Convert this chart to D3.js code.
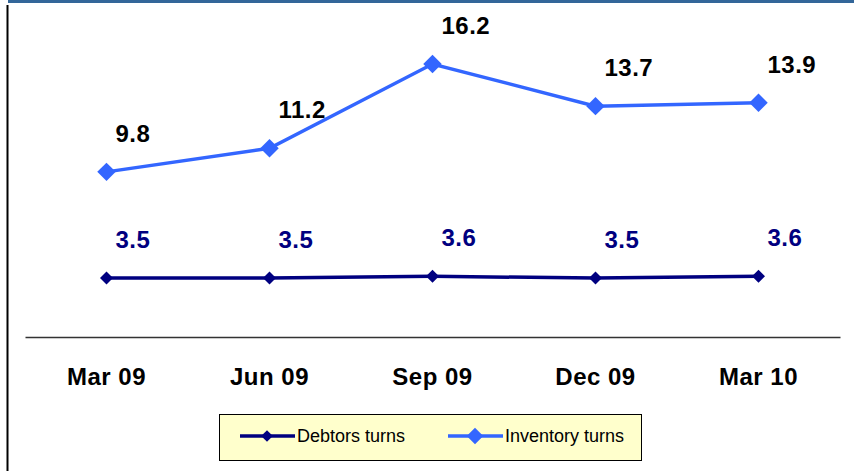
<!DOCTYPE html>
<html>
<head>
<meta charset="utf-8">
<script src="https://cdnjs.cloudflare.com/ajax/libs/d3/7.8.5/d3.min.js"></script>
<style>
  body { margin: 0; background: #fff; }
  svg { display: block; font-family: "Liberation Sans", Arial, sans-serif; }
</style>
</head>
<body>
<svg id="chart" width="854" height="471"></svg>
<script>
// quarters on the x axis
var quarters = ["Mar 09", "Jun 09", "Sep 09", "Dec 09", "Mar 10"];
var debtorsTurns = [3.5, 3.5, 3.6, 3.5, 3.6];
var inventoryTurns = [9.8, 11.2, 16.2, 13.7, 13.9];
var seriesNames = ["Debtors turns", "Inventory turns"];
var seriesColors = ["#000080", "#3366ff"];

var svg = d3.select("#chart");

// frame bits: blue bar on top, black rule on the left
svg.append("rect").attr("x", 8).attr("y", 0).attr("width", 846).attr("height", 3).attr("fill", "#336699");
svg.append("line").attr("x1", 7.5).attr("x2", 7.5).attr("y1", 5).attr("y2", 471)
   .attr("stroke", "#000").attr("stroke-width", 2);

var x = d3.scaleBand().domain(quarters).range([25, 840]);
var y = d3.scaleLinear().domain([0, 20]).range([337, 0]);

// category axis, ticks hidden
var xAxis = svg.append("g")
  .attr("transform", "translate(0,337)")
  .call(d3.axisBottom(x).tickSize(0).tickPadding(31));
xAxis.select(".domain").attr("stroke", "#333").attr("stroke-width", 1.5);
xAxis.selectAll("text")
  .attr("fill", "#000")
  .style("font-size", "24px")
  .style("font-weight", "bold")
  .style("letter-spacing", "0.5px");

var series = [debtorsTurns, inventoryTurns];
var labelColors = ["#000080", "#000"];
var markerArea = [85, 170];

var cx = function (i) { return x(quarters[i]) + x.bandwidth() / 2; };

var line = d3.line()
  .x(function (d, i) { return cx(i); })
  .y(function (d) { return y(d); });

series.forEach(function (vals, s) {
  // square turned 45deg, like the excel diamond marker
  var diamond = d3.symbol().type(d3.symbolSquare).size(markerArea[s]);
  var g = svg.append("g");
  g.append("path")
    .datum(vals)
    .attr("d", line)
    .attr("fill", "none")
    .attr("stroke", seriesColors[s])
    .attr("stroke-width", 3.5);

  g.selectAll("path.pt")
    .data(vals)
    .enter().append("path")
    .attr("class", "pt")
    .attr("d", diamond)
    .attr("transform", function (d, i) {
      return "translate(" + cx(i) + "," + y(d) + ") rotate(45)";
    })
    .attr("fill", seriesColors[s]);

  g.selectAll("text")
    .data(vals)
    .enter().append("text")
    .attr("x", function (d, i) { return cx(i) + 9; })
    .attr("y", function (d) { return y(d) - 30; })
    .attr("fill", labelColors[s])
    .style("font-size", "24px")
    .style("font-weight", "bold")
    .style("letter-spacing", "0.5px")
    .text(function (d) { return d.toFixed(1); });
});

// legend box
var legend = svg.append("g");
legend.append("rect")
  .attr("x", 219.5).attr("y", 414.5).attr("width", 422).attr("height", 46)
  .attr("fill", "#ffffcc").attr("stroke", "#000").attr("stroke-width", 1);

var legendX = [240, 448];
seriesNames.forEach(function (name, s) {
  var lx = legendX[s];
  legend.append("line")
    .attr("x1", lx).attr("x2", lx + 55).attr("y1", 436).attr("y2", 436)
    .attr("stroke", seriesColors[s]).attr("stroke-width", 3.5);
  legend.append("path")
    .attr("d", d3.symbol().type(d3.symbolSquare).size(markerArea[s] * 0.8))
    .attr("transform", "translate(" + (lx + 27) + ",436) rotate(45)")
    .attr("fill", seriesColors[s]);
  legend.append("text")
    .attr("x", lx + 57).attr("y", 442)
    .attr("fill", "#000")
    .style("font-size", "18px")
    .text(name);
});
</script>
</body>
</html>
